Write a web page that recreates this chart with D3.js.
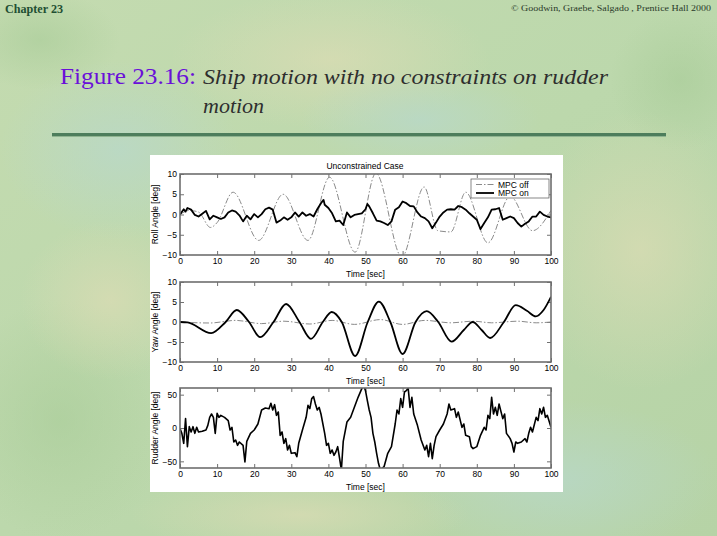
<!DOCTYPE html>
<html><head><meta charset="utf-8">
<script src="https://cdn.jsdelivr.net/npm/d3@7"></script>
<style>body{margin:0;overflow:hidden} svg{display:block}</style>
</head><body><svg id="c" width="717" height="536"></svg>
<script>
// ---------- data ----------
const timeTicks = [0,10,20,30,40,50,60,70,80,90,100];
const angleTicks = [-10,-5,0,5,10];
const rudderTicks = [-50,0,50];
const legendLabels = ["MPC off","MPC on"];

// Roll angle, MPC off (t, deg)
const rollOff = [[0,0],[2.5,1.0],[5,0.6],[8.2,-3.2],[10,-2.0],[14.3,5.5],[21.2,-6.4],[27.8,5.0],
  [34.5,-6.4],[40.3,9.2],[47.2,-9.3],[52.8,10.2],[59.8,-10.5],[65.8,6.8],[69.5,-4.0],[73,-4.3],
  [77,5.5],[83,-7.0],[89,4.5],[95,-4.0],[100,1.0]];
// Roll angle, MPC on
const rollOn = [[0,0],[1,1.3],[1.5,0.7],[2,1.6],[3,1.2],[4,-0.1],[5,-0.5],[6,0.2],[7,0.9],[8,-1.2],
  [9,-0.3],[10,-0.7],[11,-1.1],[12,-0.7],[13,0.5],[14,1.0],[15,0.7],[16,-0.2],[17,-1.7],[18,-0.3],
  [19,-1.2],[20,0.1],[21,-0.7],[22,0.1],[23,1.3],[24,1.7],[25,1.2],[26,-2.0],[27,-1.5],[28,-0.7],
  [29,-1.3],[30,-0.7],[31,0.5],[32,-0.5],[33,0.5],[34,-0.3],[35,0.1],[36,-0.5],[37,1.3],[38,2.8],
  [38.7,3.6],[39,2.4],[40,1.6],[41,0.3],[42,-1.7],[43,-1.5],[44,-2.6],[45,0.5],[46,-0.7],[47,-0.1],
  [48,0.1],[49,0.3],[50,1.3],[50.5,2.6],[51,2.0],[52,0.3],[53,-1.5],[54,-1.7],[55,-2.1],[56,-2.6],
  [57,-1.7],[58,1.2],[59,1.8],[60,3.2],[61,2.8],[62,2.1],[63,2.0],[64,0.5],[65,-0.5],[66,-0.9],
  [67,-1.7],[68,-3.4],[69,-2.0],[70,-0.5],[71,0.5],[72,1.2],[73,1.3],[74,1.2],[75,2.1],[76,1.8],
  [77,1.2],[78,0.3],[79,-0.5],[80,-1.3],[81,-3.6],[82,-2.1],[83,-0.7],[84,1.2],[85,1.3],[86,1.6],
  [87,-1.3],[88,-0.9],[89,-0.5],[90,-0.9],[91,-2.1],[92,-3.0],[93,-2.3],[94,-1.7],[95,-0.5],
  [96,-0.5],[97,0.7],[98,-0.1],[99,-0.5],[100,-0.7]];

// Yaw angle, MPC off
const yawOff = [[0,0],[8,-0.25],[15,0.4],[22,-0.4],[28,0.2],[35,-0.5],[41,0.4],[47,-0.6],[54,0.6],
  [60,-0.6],[66,0.4],[73,-0.2],[79,0.2],[84,-0.2],[91,0.2],[96,-0.2],[100,0]];
// Yaw angle, MPC on
const yawOn = [[0,0],[2,-0.1],[8.4,-2.8],[12.3,0],[15.3,3.0],[18.6,0],[21.6,-3.8],[25.2,0],[28.6,4.5],
  [32.2,0],[35.3,-4.2],[38.5,0],[40.9,2.5],[43.6,0],[47.2,-8.5],[50.6,0],[53.6,5.1],[56.7,0],
  [60,-8.0],[63.5,0],[66.5,2.7],[69.6,0],[73.2,-4.9],[76.5,-2.0],[78.9,0.0],[81.3,-2.0],[83.6,-4.0],
  [87.3,0],[90.5,4.2],[93.5,2.8],[95.9,1.4],[98,3.0],[100,6.3]];

// Rudder angle, MPC on
const rudderOn = [[0,-1],[0.5,-8],[1,-23],[1.5,14],[2,-28],[2.5,2],[3,-6],[3.5,2],[4,-8],[4.5,1],
  [5,-6],[6,-5],[7,-3],[7.5,4],[8,16],[8.5,21],[9,16],[9.5,-8],[10,22],[10.5,16],[11,19],[12,16],
  [13,11],[13.5,-3],[14,1],[14.5,-21],[15,-18],[15.5,-26],[16,-21],[17,-26],[17.5,-51],[18,-20],
  [19,-8],[20,-3],[21,6],[22,27],[23,30],[24,29],[24.5,37],[25,27],[25.5,35],[26,19],[26.5,24],
  [27,-11],[27.5,-6],[28,-23],[28.5,-16],[29,-33],[29.5,-26],[30,-38],[31,-37],[31.5,-43],[32,-23],
  [33,-3],[34,16],[34.5,34],[35,29],[35.5,44],[36,47],[36.5,36],[37,27],[37.5,31],[38,21],[39,-8],
  [39.5,-26],[40,-23],[40.5,-38],[41,-33],[41.5,-41],[42,-36],[42.5,-28],[43,-45],[43.5,-63],
  [44,-20],[45,9],[46,16],[47,31],[48,46],[49,59],[49.5,64],[50,56],[50.5,41],[51,27],[51.5,16],
  [52,-8],[52.5,-21],[53,-38],[53.5,-53],[54,-63],[55,-58],[56,-38],[57,-28],[58,6],[58.5,27],
  [59,21],[59.5,44],[60,31],[60.5,54],[61,56],[61.5,60],[62,31],[62.5,46],[63,21],[64,4],[65,-18],
  [66,-33],[66.5,-26],[67,-43],[67.5,-23],[68,-46],[68.5,-26],[69,-13],[70,-3],[71,6],[72,21],
  [72.5,36],[73,27],[74,29],[74.5,16],[75,24],[76,1],[76.5,6],[77,-11],[78,-13],[78.5,-28],
  [79,-31],[80,-28],[81,-11],[82,1],[82.5,-3],[83,19],[83.5,14],[84,46],[84.5,21],[85,31],
  [85.5,19],[86,36],[87,14],[87.5,21],[88,-8],[89,-16],[89.5,-23],[90,-36],[90.5,-21],[91,-23],
  [92,-21],[93,-16],[93.5,-21],[94,-8],[94.5,1],[95,-6],[96,16],[96.5,11],[97,29],[97.5,21],
  [98,31],[98.5,16],[99,19],[100,1]];

// ---------- drawing ----------
const svg = d3.select("#c");
const defs = svg.append("defs");

// background
const bg = defs.append("linearGradient").attr("id","bg").attr("x1",0).attr("y1",0).attr("x2",1).attr("y2",1);
bg.append("stop").attr("offset","0%").attr("stop-color","#c4dbb0");
bg.append("stop").attr("offset","50%").attr("stop-color","#bcd8ac");
bg.append("stop").attr("offset","100%").attr("stop-color","#b6d3a6");
svg.append("rect").attr("width",717).attr("height",536).attr("fill","url(#bg)");
const blob = defs.append("radialGradient").attr("id","blobY");
blob.append("stop").attr("offset","0%").attr("stop-color","#dcdcb4").attr("stop-opacity",0.7);
blob.append("stop").attr("offset","100%").attr("stop-color","#dcdcb4").attr("stop-opacity",0);
const blob2 = defs.append("radialGradient").attr("id","blobB");
blob2.append("stop").attr("offset","0%").attr("stop-color","#b8d8cc").attr("stop-opacity",0.7);
blob2.append("stop").attr("offset","100%").attr("stop-color","#b8d8cc").attr("stop-opacity",0);
const blob3 = defs.append("radialGradient").attr("id","blobG");
blob3.append("stop").attr("offset","0%").attr("stop-color","#a8cc98").attr("stop-opacity",0.6);
blob3.append("stop").attr("offset","100%").attr("stop-color","#a8cc98").attr("stop-opacity",0);
const blobs = [["blobY",330,60,160,70],["blobB",120,150,120,90],["blobY",640,250,120,140],
  ["blobB",560,480,160,80],["blobG",60,420,110,120],["blobY",110,300,90,80],["blobB",420,120,120,50],
  ["blobG",680,80,70,70],["blobY",300,515,170,40],["blobG",40,40,80,50]];
svg.append("g").selectAll("ellipse").data(blobs).join("ellipse")
  .attr("cx",d=>d[1]).attr("cy",d=>d[2]).attr("rx",d=>d[3]).attr("ry",d=>d[4])
  .attr("fill",d=>`url(#${d[0]})`);

// header
svg.append("text").attr("x",5).attr("y",13).text("Chapter 23")
  .attr("font-family","Liberation Serif, serif").attr("font-weight","bold").attr("font-size",12)
  .attr("fill","#1f4f33").attr("textLength",58).attr("lengthAdjust","spacingAndGlyphs");
svg.append("text").attr("x",711).attr("y",11).attr("text-anchor","end")
  .text("© Goodwin, Graebe, Salgado , Prentice Hall 2000")
  .attr("font-family","Liberation Serif, serif").attr("font-size",9).attr("fill","#2a3a2a")
  .attr("textLength",200).attr("lengthAdjust","spacingAndGlyphs");

// title
const tf = "Liberation Serif, Times New Roman, serif";
svg.append("text").attr("x",60).attr("y",84).text("Figure 23.16:")
  .attr("font-family",tf).attr("font-size",23).attr("fill","#6a10d8")
  .attr("textLength",136).attr("lengthAdjust","spacingAndGlyphs");
svg.append("text").attr("x",203).attr("y",84).text("Ship motion with no constraints on rudder")
  .attr("font-family",tf).attr("font-style","italic").attr("font-size",22).attr("fill","#2e2e2e")
  .attr("textLength",405).attr("lengthAdjust","spacingAndGlyphs");
svg.append("text").attr("x",203).attr("y",113).text("motion")
  .attr("font-family",tf).attr("font-style","italic").attr("font-size",22).attr("fill","#2e2e2e");
svg.append("rect").attr("x",52).attr("y",133).attr("width",614).attr("height",3).attr("fill","#4d7d5c");
svg.append("rect").attr("x",52).attr("y",136).attr("width",614).attr("height",1).attr("fill","#8fb490");

// white panel
svg.append("rect").attr("x",150).attr("y",155).attr("width",413).attr("height",337).attr("fill","#ffffff");

const sf = "Liberation Sans, Arial, sans-serif";
svg.append("text").attr("x",365).attr("y",169).attr("text-anchor","middle").text("Unconstrained Case")
  .attr("font-family",sf).attr("font-size",8.5).attr("fill","#000");

const L = 180, R = 551;
const x = d3.scaleLinear().domain([0,100]).range([L,R]);

function panel(id, top, bottom, domain, ticks, ylabel, series) {
  const y = d3.scaleLinear().domain(domain).range([bottom, top]);
  const g = svg.append("g");
  defs.append("clipPath").attr("id","clip"+id).append("rect")
    .attr("x",L).attr("y",top).attr("width",R-L).attr("height",bottom-top);
  const ax = (a) => a.attr("font-family",sf).attr("font-size",8.5).call(s=>s.select(".domain").remove())
    .call(s=>s.selectAll("line").attr("stroke","#333").attr("stroke-width",0.7))
    .call(s=>s.selectAll("text").attr("fill","#000"));
  g.append("g").attr("transform",`translate(0,${bottom})`)
    .call(d3.axisBottom(x).tickValues(timeTicks).tickSize(-4).tickPadding(3).tickFormat(d3.format("d"))).call(ax);
  g.append("g").attr("transform",`translate(0,${top})`)
    .call(d3.axisTop(x).tickValues(timeTicks).tickSize(-4).tickFormat("")).call(ax);
  g.append("g").attr("transform",`translate(${L},0)`)
    .call(d3.axisLeft(y).tickValues(ticks).tickSize(-4).tickPadding(3).tickFormat(d=>d<0?"\u2212"+(-d):d)).call(ax);
  g.append("g").attr("transform",`translate(${R},0)`)
    .call(d3.axisRight(y).tickValues(ticks).tickSize(-4).tickFormat("")).call(ax);
  const lines = g.append("g").attr("clip-path",`url(#clip${id})`);
  series.forEach(s => {
    lines.append("path").datum(s.data)
      .attr("d", d3.line().x(d=>x(d[0])).y(d=>y(d[1])).curve(s.curve))
      .attr("fill","none").attr("stroke",s.color).attr("stroke-width",s.width)
      .attr("stroke-dasharray",s.dash||null).attr("stroke-linejoin","round");
  });
  g.append("rect").attr("x",L).attr("y",top).attr("width",R-L).attr("height",bottom-top)
    .attr("fill","none").attr("stroke","#6e6e6e").attr("stroke-width",1.6);
  g.append("text").attr("transform",`translate(${L-22},${(top+bottom)/2}) rotate(-90)`)
    .attr("text-anchor","middle").text(ylabel).attr("font-family",sf).attr("font-size",8.5);
  g.append("text").attr("x",(L+R)/2).attr("y",bottom+22).attr("text-anchor","middle")
    .text("Time [sec]").attr("font-family",sf).attr("font-size",8.5);
  return {g,y};
}

const offStyle = {color:"#8a8a8a", width:1, dash:"6,2,1.5,2", curve:d3.curveMonotoneX};
panel(1, 174, 255, [-10,10], angleTicks, "Roll Angle [deg]", [
  Object.assign({data:rollOff}, offStyle),
  {data:rollOn, color:"#000", width:1.8, curve:d3.curveLinear}
]);
panel(2, 282, 362, [-10,10], angleTicks, "Yaw Angle [deg]", [
  Object.assign({data:yawOff}, offStyle),
  {data:yawOn, color:"#000", width:1.8, curve:d3.curveMonotoneX}
]);
panel(3, 388, 468, [-60,60], rudderTicks, "Rudder Angle [deg]", [
  {data:rudderOn, color:"#000", width:1.6, curve:d3.curveLinear}
]);

// legend
const lg = svg.append("g");
lg.append("rect").attr("x",471).attr("y",179).attr("width",78).attr("height",19)
  .attr("fill","#fff").attr("stroke","#555").attr("stroke-width",0.7);
const lstyles = [offStyle, {color:"#000", width:1.8}];
legendLabels.forEach((lab,i) => {
  const yy = 184.5 + i*8.5;
  lg.append("line").attr("x1",476).attr("x2",494).attr("y1",yy).attr("y2",yy)
    .attr("stroke",lstyles[i].color).attr("stroke-width",lstyles[i].width)
    .attr("stroke-dasharray",lstyles[i].dash||null);
  lg.append("text").attr("x",498).attr("y",yy+3).text(lab)
    .attr("font-family",sf).attr("font-size",8.5);
});
</script></body></html>
